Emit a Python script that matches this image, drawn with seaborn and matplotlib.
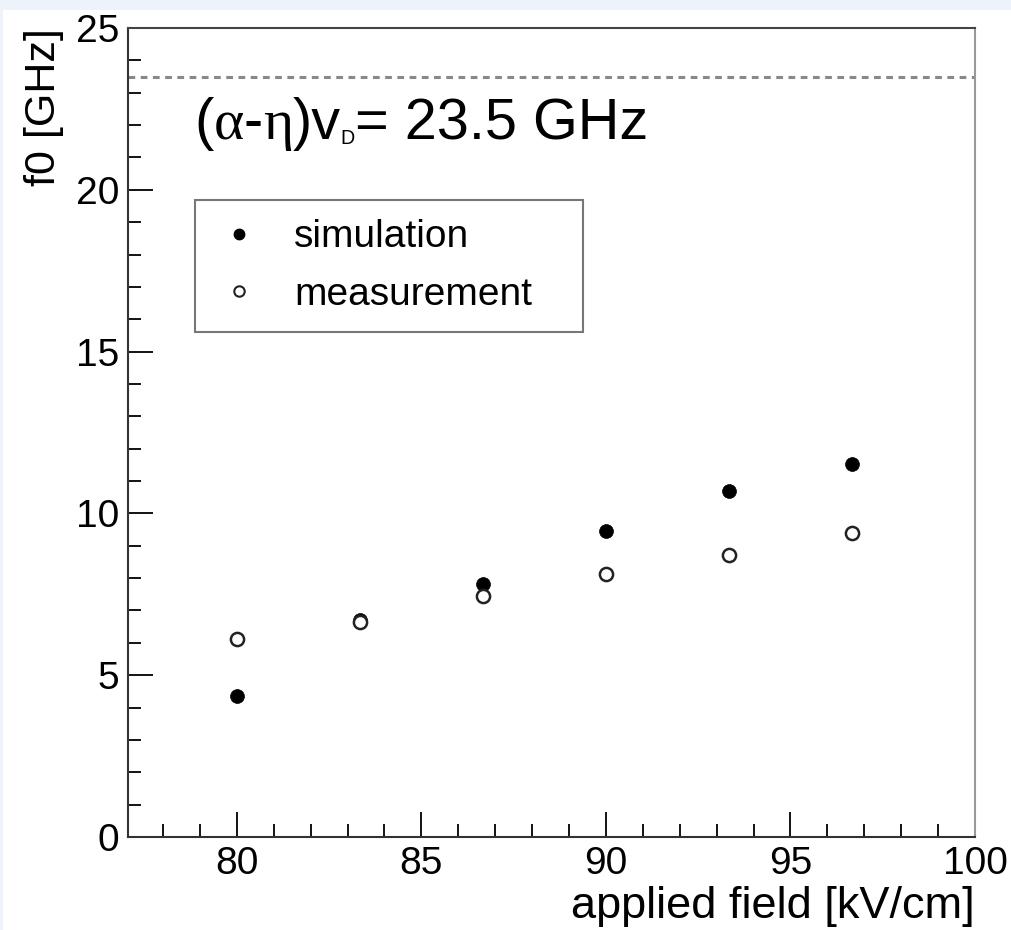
import matplotlib
matplotlib.use("Agg")
import matplotlib.pyplot as plt
import seaborn as sns
import pandas as pd
from matplotlib.lines import Line2D
from matplotlib.patches import Rectangle
from matplotlib.ticker import MultipleLocator
from matplotlib.transforms import IdentityTransform

field = [80.0, 83.33, 86.67, 90.0, 93.33, 96.67]
simulation = [4.35, 6.7, 7.82, 9.45, 10.69, 11.53]
measurement = [6.12, 6.65, 7.45, 8.12, 8.71, 9.39]
limit_value = 23.5
series_names = ["simulation", "measurement"]
# annotation pieces: (text, size scale, family)
label_pieces = [("(", 1.0, "sans"), ("α", 1.0, "serif"), ("-", 1.0, "sans"),
                ("η", 1.0, "serif"), (")v", 1.0, "sans"), ("D", 0.34, "sans"),
                ("= 23.5 GHz", 1.0, "sans")]

sns.set_style("white")
plt.rcParams['font.family'] = ['Liberation Sans', 'DejaVu Sans']
plt.rcParams['text.color'] = 'black'
plt.rcParams['axes.labelcolor'] = 'black'

W, H = 1011, 930
fig = plt.figure(figsize=(W / 100, H / 100), dpi=100)
fig.patch.set_facecolor('#eef3fb')
fig.patches.append(Rectangle((3 / W, 0), 1, (H - 10) / H, transform=fig.transFigure,
                             facecolor='white', edgecolor='none', zorder=-1))
ax = fig.add_axes([128 / W, (H - 837) / H, (975 - 128) / W, (837 - 28) / H])
ax.set_facecolor('white')

df_sim = pd.DataFrame({"x": field, "y": simulation})
df_meas = pd.DataFrame({"x": field, "y": measurement})
sns.scatterplot(data=df_sim, x="x", y="y", ax=ax, marker='o', s=100,
                color='black', edgecolor='black', linewidth=0.5, zorder=3)
sns.scatterplot(data=df_meas, x="x", y="y", ax=ax, marker='o', s=90,
                facecolor='white', edgecolor='#222222', linewidth=1.8, zorder=4)

ax.axhline(limit_value, color='#888888', linestyle=(0, (2.2, 1.8)), linewidth=2.2)

ax.set_xlim(77.05, 100)
ax.set_ylim(0, 25)
ax.xaxis.set_major_locator(MultipleLocator(5))
ax.xaxis.set_minor_locator(MultipleLocator(1))
ax.yaxis.set_major_locator(MultipleLocator(5))
ax.yaxis.set_minor_locator(MultipleLocator(1))
ax.tick_params(axis='both', which='both', bottom=True, left=True, top=False, right=False)
ax.tick_params(axis='both', which='major', direction='in', length=18, width=1.3,
               labelsize=28, colors='black', pad=6.5)
ax.tick_params(axis='both', which='minor', direction='in', length=9.5, width=1.3, colors='black')

for s in ['left', 'bottom']:
    ax.spines[s].set_color('#333333')
    ax.spines[s].set_linewidth(1.5)
ax.spines['top'].set_color('#444444')
ax.spines['top'].set_linewidth(1.5)
ax.spines['right'].set_color('#999999')
ax.spines['right'].set_linewidth(1.5)

ax.set_xlabel("applied field [kV/cm]", fontsize=32.5)
ax.xaxis.set_label_coords(1.0, -0.060)
ax.xaxis.label.set_horizontalalignment('right')
ax.set_ylabel("f0 [GHz]", fontsize=31)
ax.yaxis.set_label_coords(-0.076, 1.0)
ax.yaxis.label.set_horizontalalignment('right')

handles = [Line2D([], [], marker='o', linestyle='none', markersize=7.5,
                  markerfacecolor='black', markeredgecolor='black'),
           Line2D([], [], marker='o', linestyle='none', markersize=7.5,
                  markerfacecolor='white', markeredgecolor='#222222', markeredgewidth=1.5)]
lx0 = (195 - 128) / 847
lx1 = (583 - 128) / 847
ly1 = (837 - 200) / 809
ly0 = (837 - 332) / 809
leg = ax.legend(handles, series_names, loc='upper left', mode='expand',
                bbox_to_anchor=(lx0, ly0, lx1 - lx0, ly1 - ly0), fontsize=28,
                frameon=True, fancybox=False, edgecolor='#555555', borderpad=0.5,
                labelspacing=0.55, handletextpad=0.8, borderaxespad=0, handlelength=1.25)
leg.get_frame().set_linewidth(1.5)
for t in leg.get_texts():
    t.set_color('black')

# annotation built piece by piece so the subscript D can be tiny
fig.canvas.draw()
renderer = fig.canvas.get_renderer()
base_size = 41.5
x_px = 194.0
y_base = H - 139.0
for text, scale, fam in label_pieces:
    family = ['Liberation Serif', 'DejaVu Serif'] if fam == "serif" else ['Liberation Sans', 'DejaVu Sans']
    dy = -5.0 if scale < 1 else 0.0
    t = ax.text(x_px, y_base + dy, text, transform=IdentityTransform(),
                fontsize=base_size * scale, family=family, va='baseline', ha='left',
                color='black')
    bb = t.get_window_extent(renderer)
    x_px = bb.x1

fig.savefig("out.png", dpi=100, facecolor=fig.get_facecolor())
